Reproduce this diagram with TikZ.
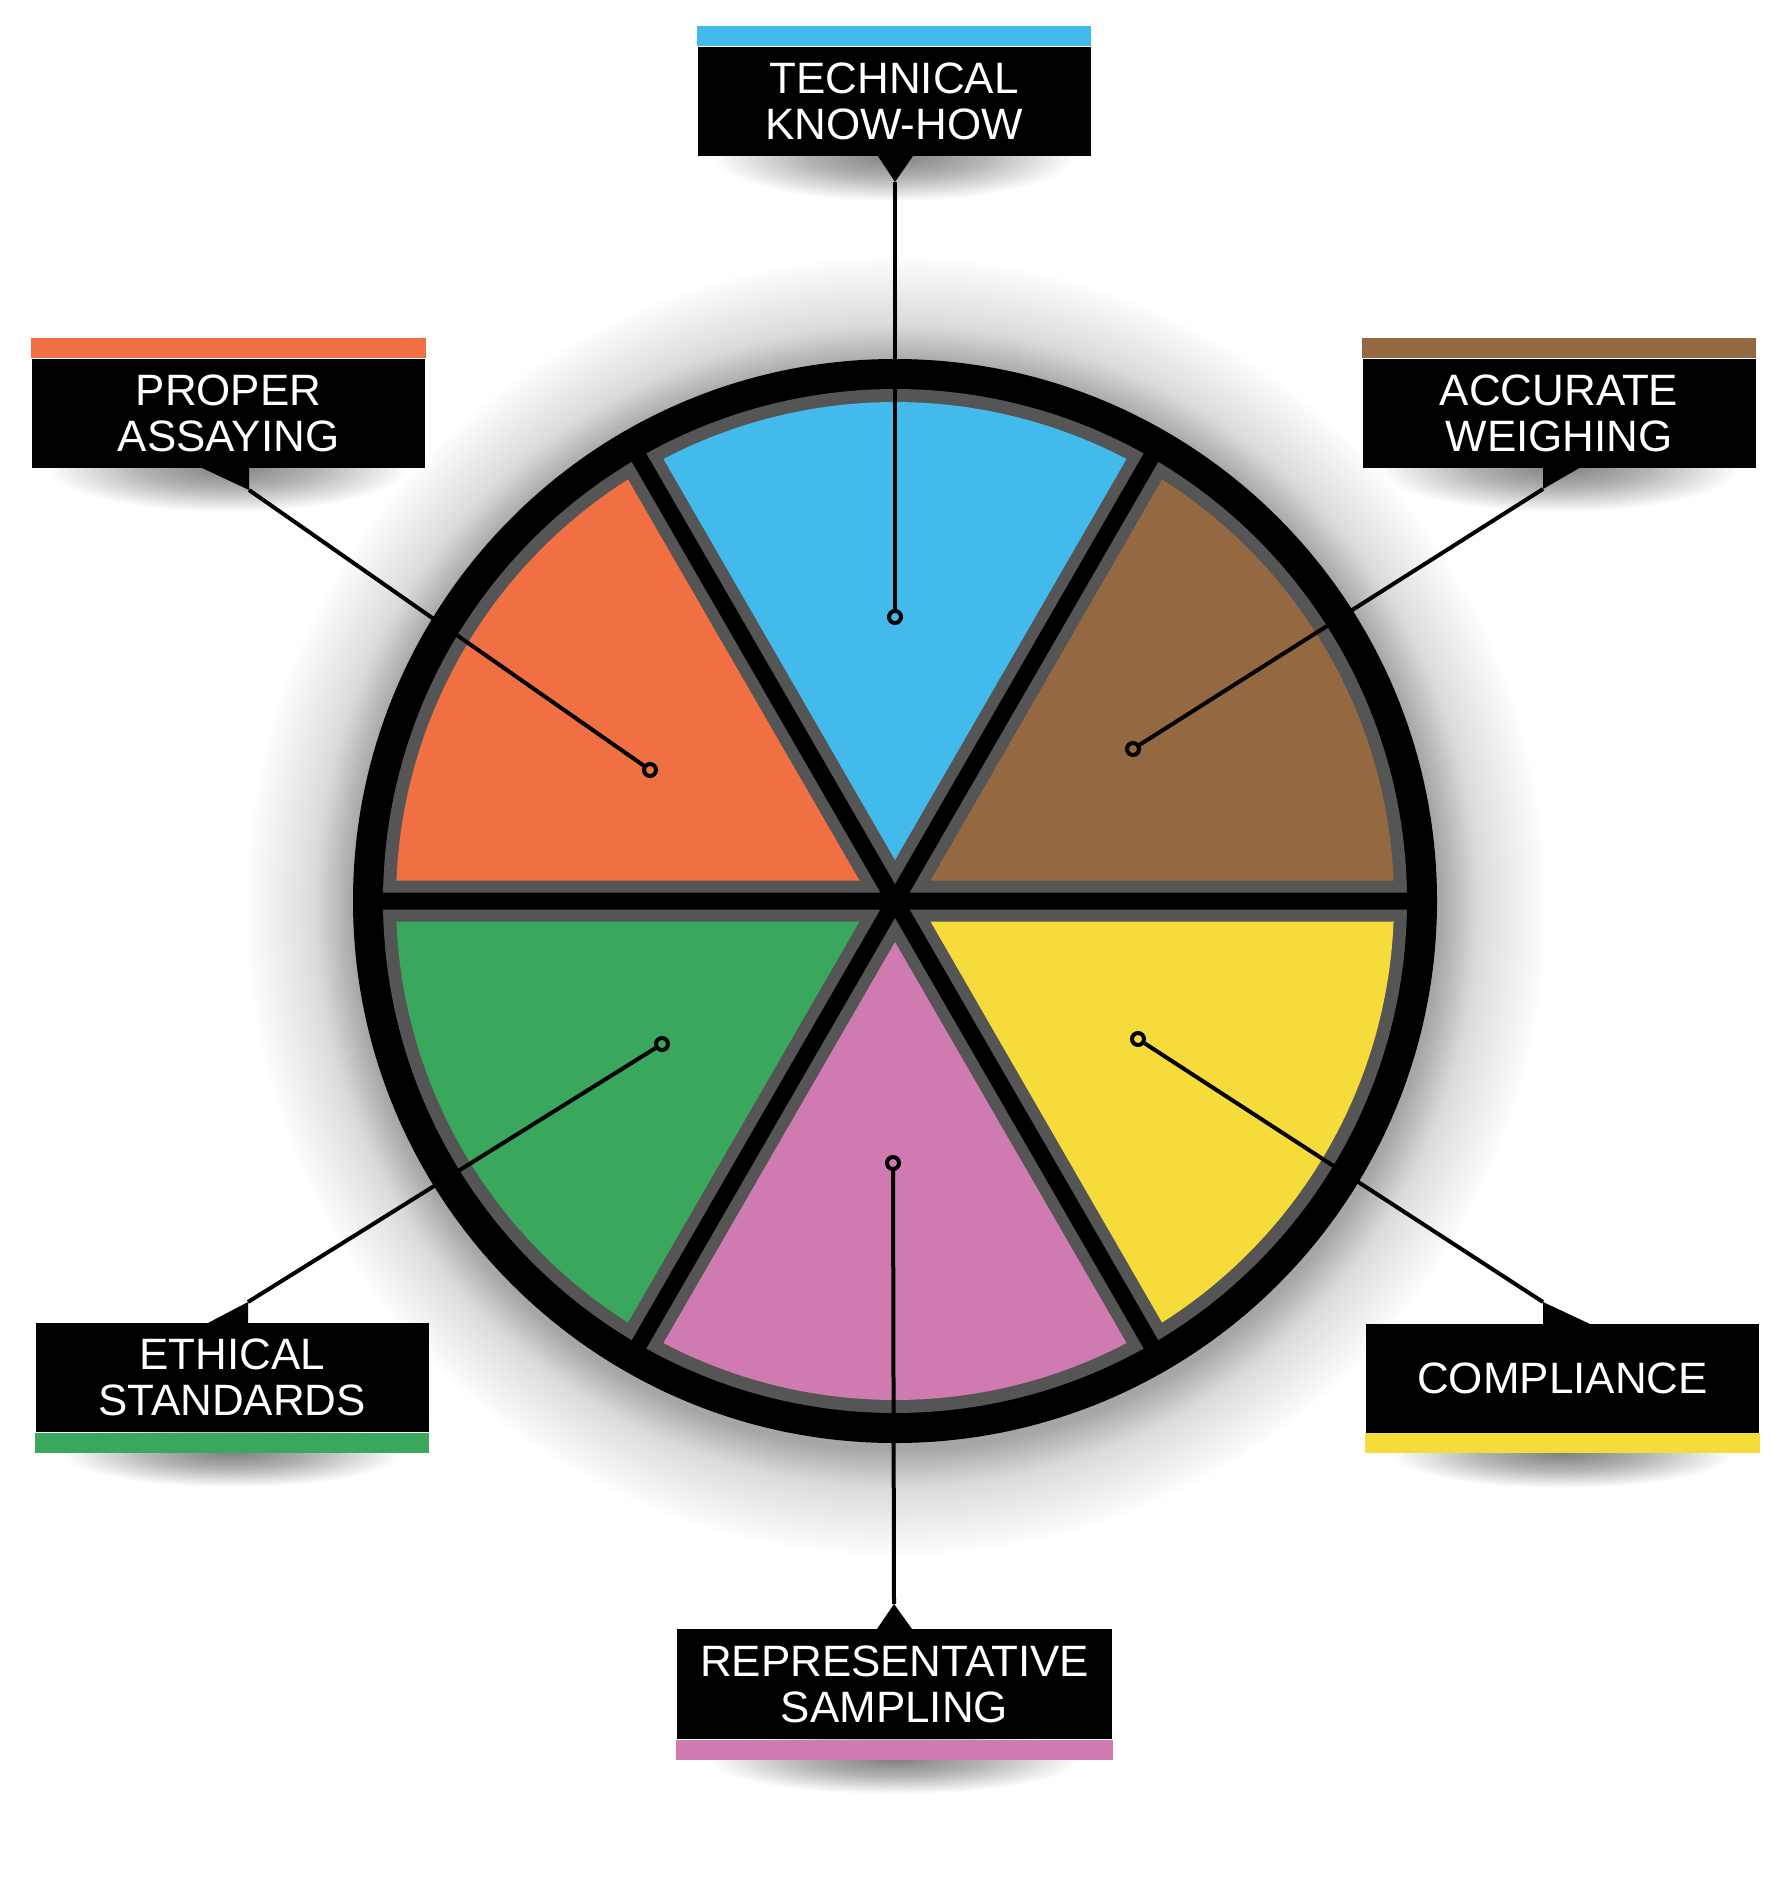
\documentclass[tikz,border=0pt]{standalone}
\usepackage{fontspec}
\setmainfont{Liberation Sans}
\usetikzlibrary{fadings}
\pgfdeclareradialshading{glowshade}{\pgfpointorigin}{color(0bp)=(pgftransparent!65); color(20.8bp)=(pgftransparent!65); color(22.3bp)=(pgftransparent!86); color(25bp)=(pgftransparent!100); color(50bp)=(pgftransparent!100)}
\pgfdeclarefading{glowfade}{\pgfuseshading{glowshade}}
\pgfdeclareradialshading{lblshade}{\pgfpointorigin}{color(0bp)=(pgftransparent!50); color(12bp)=(pgftransparent!70); color(25bp)=(pgftransparent!100); color(50bp)=(pgftransparent!100)}
\pgfdeclarefading{lblfade}{\pgfuseshading{lblshade}}
\definecolor{cblue}{RGB}{66,186,235}
\definecolor{corange}{RGB}{240,112,68}
\definecolor{cbrown}{RGB}{148,104,64}
\definecolor{cgreen}{RGB}{58,168,92}
\definecolor{cpink}{RGB}{208,122,178}
\definecolor{cyellow}{RGB}{245,220,58}
\definecolor{cgray}{RGB}{85,85,85}
\newcommand\mysector[4]{%
  \fill[#4] (#1:{2*#2}) -- ({#1-30+asin(#2/#3)}:#3)
    arc[start angle={#1-30+asin(#2/#3)}, end angle={#1+30-asin(#2/#3)}, radius=#3] -- cycle;}
\tikzset{
  lbl/.style={fill=black, text=white, minimum width=39.3mm, minimum height=10.9mm,
    inner sep=0pt, align=center, font=\fontsize{12.5pt}{13.1pt}\selectfont},
  conn/.style={line width=0.4mm},
  dotmark/.style={circle, draw=black, line width=0.4mm, minimum size=1.2mm, inner sep=0pt},
  lblshadow/.style={fill=black, path fading=lblfade},
}
\begin{document}
\begin{tikzpicture}[x=0.1mm, y=-0.1mm]
\useasboundingbox (0,0) rectangle (1792,1895);
\fill[white] (0,0) rectangle (1792,1895);

% shadows
\fill[black, path fading=glowfade] (896,906) circle (650);
\fill[lblshadow] (894,156) ellipse [x radius=180, y radius=45];
\fill[lblshadow] (228,467) ellipse [x radius=180, y radius=45];
\fill[lblshadow] (1559,467) ellipse [x radius=180, y radius=45];
\fill[lblshadow] (232,1452) ellipse [x radius=170, y radius=35];
\fill[lblshadow] (1562,1453) ellipse [x radius=170, y radius=35];
\fill[lblshadow] (894,1759) ellipse [x radius=185, y radius=35];

% wheel
\begin{scope}[shift={(895,901)}]
  \fill[black] (0,0) circle (542);
  \foreach \a in {30,90,150,210,270,330} {\mysector{\a}{8.5}{512}{cgray}}
  \mysector{270}{20.5}{499}{cblue}
  \mysector{330}{20.5}{499}{cbrown}
  \mysector{210}{20.5}{499}{corange}
  \mysector{150}{20.5}{499}{cgreen}
  \mysector{90}{20.5}{499}{cpink}
  \mysector{30}{20.5}{499}{cyellow}
\end{scope}

% labels
\node[lbl] (tech) at (894,101.5) {TECHNICAL\\KNOW-HOW};
\fill[cblue] (tech.north west) rectangle ([yshift=2mm]tech.north east);
\node[lbl] (prop) at (228.5,413) {PROPER\\ASSAYING};
\fill[corange] (prop.north west) rectangle ([yshift=2mm]prop.north east);
\node[lbl] (acc) at (1559,413) {ACCURATE\\WEIGHING};
\fill[cbrown] (acc.north west) rectangle ([yshift=2mm]acc.north east);
\node[lbl] (eth) at (232,1377.5) {ETHICAL\\STANDARDS};
\fill[cgreen] (eth.south west) rectangle ([yshift=-2mm]eth.south east);
\node[lbl] (comp) at (1562.5,1378) {COMPLIANCE};
\fill[cyellow] (comp.south west) rectangle ([yshift=-2mm]comp.south east);
\node[lbl, minimum width=43.5mm, minimum height=11mm] (samp) at (894.5,1684) {REPRESENTATIVE\\SAMPLING};
\fill[cpink] (samp.south west) rectangle ([yshift=-2mm]samp.south east);

% tails
\coordinate (techtip) at (895,182);
\coordinate (proptip) at (249,490);
\coordinate (acctip) at (1543,489);
\coordinate (ethtip) at (248,1302);
\coordinate (comptip) at (1543,1302);
\coordinate (samptip) at (894,1604);
\fill[black] (878,156) -- (913,156) -- (techtip) -- cycle;
\fill[black] (200,467) -- (249,467) -- (proptip) -- cycle;
\fill[black] (1543,467) -- (1581,467) -- (acctip) -- cycle;
\fill[black] (208,1323) -- (248,1323) -- (ethtip) -- cycle;
\fill[black] (1543,1324) -- (1590,1324) -- (comptip) -- cycle;
\fill[black] (877,1629) -- (912,1629) -- (samptip) -- cycle;

% dots
\node[dotmark] (techdot) at (895,617) {};
\node[dotmark] (propdot) at (650,770) {};
\node[dotmark] (accdot) at (1133,749) {};
\node[dotmark] (ethdot) at (662,1044) {};
\node[dotmark] (compdot) at (1138,1039) {};
\node[dotmark] (sampdot) at (893,1163) {};

% connectors
\draw[conn] (techtip) -- (techdot);
\draw[conn] (proptip) -- (propdot);
\draw[conn] (acctip) -- (accdot);
\draw[conn] (ethtip) -- (ethdot);
\draw[conn] (comptip) -- (compdot);
\draw[conn] (samptip) -- (sampdot);
\end{tikzpicture}
\end{document}
